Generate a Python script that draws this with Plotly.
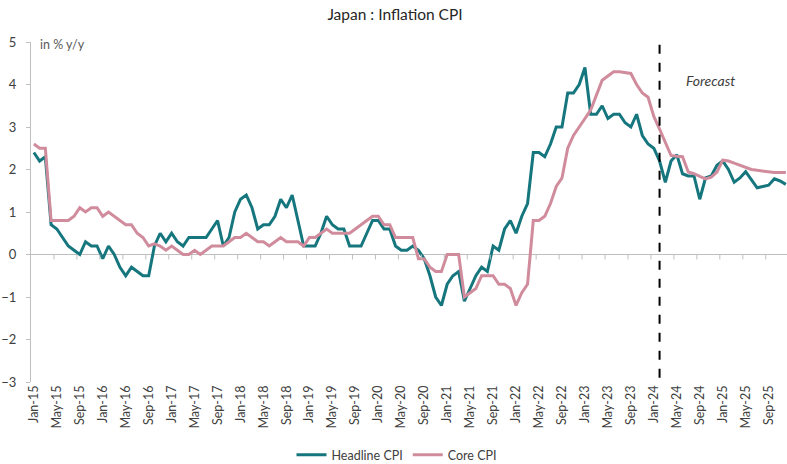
import plotly.graph_objects as go

# ---- data ----
months = ["Jan", "Feb", "Mar", "Apr", "May", "Jun", "Jul", "Aug", "Sep", "Oct", "Nov", "Dec"]
years = list(range(15, 26))
categories = [f"{m}-{y}" for y in years for m in months]

headline_cpi = [
    2.4, 2.2, 2.3, 0.7, 0.6, 0.4, 0.2, 0.1, 0.0, 0.3, 0.2, 0.2,       # 2015
    -0.1, 0.2, 0.0, -0.3, -0.5, -0.3, -0.4, -0.5, -0.5, 0.2, 0.5, 0.3, # 2016
    0.5, 0.3, 0.2, 0.4, 0.4, 0.4, 0.4, 0.6, 0.8, 0.2, 0.4, 1.0,       # 2017
    1.3, 1.4, 1.1, 0.6, 0.7, 0.7, 0.9, 1.3, 1.1, 1.4, 0.8, 0.2,       # 2018
    0.2, 0.2, 0.5, 0.9, 0.7, 0.6, 0.6, 0.2, 0.2, 0.2, 0.5, 0.8,       # 2019
    0.8, 0.6, 0.6, 0.2, 0.1, 0.1, 0.2, 0.1, -0.1, -0.5, -1.0, -1.2,   # 2020
    -0.7, -0.5, -0.4, -1.1, -0.8, -0.5, -0.3, -0.4, 0.2, 0.1, 0.6, 0.8, # 2021
    0.5, 0.9, 1.2, 2.4, 2.4, 2.3, 2.6, 3.0, 3.0, 3.8, 3.8, 4.0,       # 2022
    4.4, 3.3, 3.3, 3.5, 3.2, 3.3, 3.3, 3.1, 3.0, 3.3, 2.8, 2.6,       # 2023
    2.5, 2.2, 1.7, 2.2, 2.35, 1.9, 1.85, 1.85, 1.3, 1.8, 1.85, 2.1,   # 2024
    2.2, 2.0, 1.7, 1.8, 1.95, 1.75, 1.57, 1.6, 1.63, 1.78, 1.73, 1.65, # 2025
]

core_cpi = [
    2.6, 2.5, 2.5, 0.8, 0.8, 0.8, 0.8, 0.9, 1.1, 1.0, 1.1, 1.1,       # 2015
    0.9, 1.0, 0.9, 0.8, 0.7, 0.7, 0.5, 0.4, 0.2, 0.25, 0.2, 0.1,      # 2016
    0.2, 0.1, 0.0, 0.0, 0.1, 0.0, 0.1, 0.2, 0.2, 0.2, 0.3, 0.4,       # 2017
    0.4, 0.5, 0.4, 0.3, 0.3, 0.2, 0.3, 0.4, 0.3, 0.3, 0.3, 0.2,       # 2018
    0.4, 0.4, 0.5, 0.6, 0.5, 0.5, 0.5, 0.5, 0.6, 0.7, 0.8, 0.9,       # 2019
    0.9, 0.7, 0.7, 0.4, 0.4, 0.4, 0.4, -0.1, -0.1, -0.3, -0.4, -0.4,  # 2020
    0.0, 0.0, 0.0, -1.0, -0.9, -0.8, -0.5, -0.5, -0.5, -0.7, -0.7, -0.8, # 2021
    -1.2, -0.9, -0.7, 0.8, 0.8, 0.9, 1.2, 1.6, 1.8, 2.5, 2.8, 3.0,    # 2022
    3.2, 3.4, 3.75, 4.1, 4.2, 4.3, 4.3, 4.28, 4.26, 4.0, 3.8, 3.7,    # 2023
    3.25, 2.95, 2.65, 2.33, 2.31, 2.3, 1.94, 1.9, 1.84, 1.78, 1.82, 1.94, # 2024
    2.22, 2.2, 2.15, 2.1, 2.04, 2.0, 1.98, 1.96, 1.94, 1.93, 1.93, 1.93,  # 2025
]

tick_step = 4
tick_labels = categories[::tick_step]
forecast_start = "Feb-24"

# ---- styling ----
TEAL = "#16767E"
PINK = "#D08C9C"
AXIS_GREY = "#BFBFBF"
TEXT = "#404040"
FONT = "Lato, 'Open Sans', 'Liberation Sans', sans-serif"

idx = list(range(len(categories)))

fig = go.Figure()
fig.add_trace(go.Scatter(x=idx, y=headline_cpi, name="Headline CPI", mode="lines",
                         line=dict(color=TEAL, width=3), customdata=categories,
                         hovertemplate="%{customdata}: %{y}<extra>Headline CPI</extra>"))
fig.add_trace(go.Scatter(x=idx, y=core_cpi, name="Core CPI", mode="lines",
                         line=dict(color=PINK, width=3), customdata=categories,
                         hovertemplate="%{customdata}: %{y}<extra>Core CPI</extra>"))

# tick marks on the zero line at category boundaries every 4 months
shapes = []
for k in range(tick_step, len(categories), tick_step):
    shapes.append(dict(type="line", xref="x", yref="y", xsizemode="scaled",
                       ysizemode="pixel", yanchor=0, x0=k - 0.5, x1=k - 0.5,
                       y0=0, y1=-5, line=dict(color=AXIS_GREY, width=1)))

# forecast divider
fx = categories.index(forecast_start)
shapes.append(dict(type="line", xref="x", yref="y", x0=fx, x1=fx, y0=-2.9, y1=5,
                   line=dict(color="black", width=2, dash="dash")))

fig.update_layout(
    width=787, height=464,
    margin=dict(l=31, r=0, t=42, b=82, autoexpand=False),
    paper_bgcolor="white", plot_bgcolor="white",
    font=dict(family=FONT, color=TEXT, size=12),
    title=dict(text="Japan : Inflation CPI", x=(395 - 31) / 756, xref="paper", xanchor="center",
               y=0.968, yref="container", yanchor="middle", automargin=False,
               font=dict(size=15.5, color="#262626", family=FONT)),
    showlegend=True,
    legend=dict(orientation="h", x=(397 - 31) / 756, xref="paper", xanchor="center",
                y=9 / 464, yref="container", yanchor="middle",
                font=dict(size=12.5, color=TEXT), itemwidth=30, tracegroupgap=0),
    shapes=shapes,
    annotations=[
        dict(text="in % y/y", xref="paper", yref="paper", x=0.009, y=0.994,
             xanchor="left", yanchor="middle", showarrow=False,
             font=dict(size=12.5, color="#595959")),
        dict(text="<i>Forecast</i>", xref="x", yref="y", x=117.8, y=4.1,
             xanchor="center", yanchor="middle", showarrow=False,
             font=dict(size=14, color=TEXT)),
    ],
)

fig.update_xaxes(
    range=[-0.5, 131.2], showgrid=False, zeroline=False, showline=False,
    automargin=False,
    tickmode="array", tickvals=idx[::tick_step], ticktext=tick_labels,
    tickangle=-90, ticks="", tickfont=dict(size=12.5, color=TEXT),
)
fig.update_yaxes(
    range=[-3, 5], dtick=1, tick0=0, showgrid=False, automargin=False,
    zeroline=True, zerolinecolor=AXIS_GREY, zerolinewidth=1,
    showline=True, linecolor=AXIS_GREY, linewidth=1,
    ticks="outside", ticklen=4, tickcolor=AXIS_GREY,
    ticklabelstandoff=7, tickfont=dict(size=13, color=TEXT),
)

fig.write_html(
    "out.html",
    config={"displayModeBar": False},
    post_script="document.body.style.margin='0';document.body.style.overflow='hidden';",
)
